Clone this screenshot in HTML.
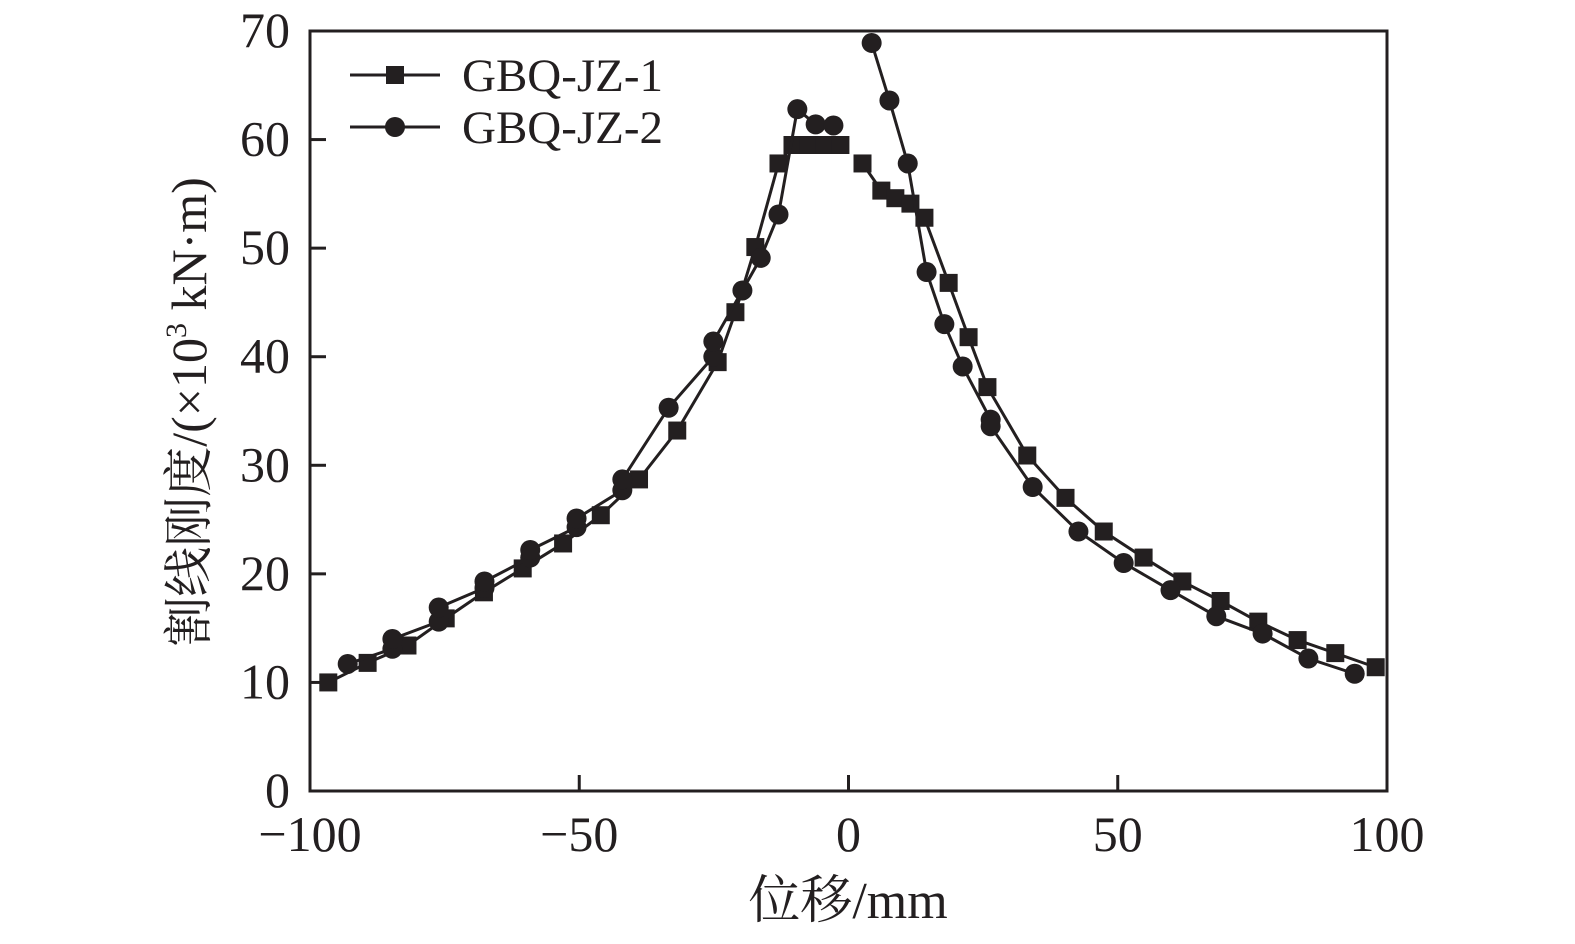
<!DOCTYPE html>
<html><head><meta charset="utf-8"><style>
html,body{margin:0;padding:0;background:#fff;}
svg text{font-family:"Liberation Serif","Noto Serif CJK SC",serif;fill:#231f20;}
</style></head><body>
<svg id="chart" width="1575" height="939" viewBox="0 0 1575 939" xmlns="http://www.w3.org/2000/svg"></svg>
<script>
const xTicks=[-100,-50,0,50,100];
const yTicks=[0,10,20,30,40,50,60,70];
const s1LeftX=[-96.6,-89.3,-81.9,-74.8,-67.7,-60.5,-53.0,-46.0,-38.9,-31.8,-24.3,-21.0,-17.3,-13.0,-10.4,-7.4,-4.5,-1.5];
const s1LeftY=[10.0,11.8,13.4,15.9,18.3,20.5,22.8,25.4,28.7,33.2,39.5,44.1,50.1,57.8,59.5,59.5,59.5,59.5];
const s1RightX=[2.6,6.1,8.7,11.5,14.1,18.6,22.3,25.8,33.2,40.3,47.4,54.8,62.0,69.1,76.1,83.4,90.4,97.9];
const s1RightY=[57.8,55.3,54.6,54.1,52.8,46.8,41.8,37.2,30.9,27.0,23.9,21.5,19.3,17.5,15.6,13.9,12.7,11.4];
const s2LeftX=[-93.0,-84.7,-84.7,-76.1,-76.1,-67.6,-67.6,-59.1,-59.1,-50.5,-50.5,-42.0,-42.0,-33.4,-25.1,-25.1,-19.7,-16.3,-13.0,-9.5,-6.1,-2.8];
const s2LeftY=[11.7,13.1,14.0,15.6,16.9,18.7,19.3,21.5,22.2,24.3,25.1,27.7,28.7,35.3,40.0,41.4,46.1,49.1,53.1,62.8,61.4,61.3];
const s2RightX=[4.3,7.6,11.0,14.5,17.8,21.2,26.4,26.4,34.2,42.7,51.1,59.8,68.3,76.9,85.4,94.0];
const s2RightY=[68.9,63.6,57.8,47.8,43.0,39.1,34.2,33.6,28.0,23.9,21.0,18.5,16.1,14.5,12.2,10.8];

const NS="http://www.w3.org/2000/svg";
const svg=document.getElementById('chart');
const L=310,R=1387,T=31,B=791;
const X=v=>L+(v+100)/200*(R-L);
const Y=v=>B-v/70*(B-T);
const C="#231f20";
function mk(tag,attrs,parent){const e=document.createElementNS(NS,tag);for(const k in attrs)e.setAttribute(k,attrs[k]);(parent||svg).appendChild(e);return e;}

const frame=mk('rect',{x:L,y:T,width:R-L,height:B-T,fill:'none',stroke:C,'stroke-width':3});



xTicks.forEach(t=>{
  const l=mk('line',{x1:X(t),x2:X(t),y1:B,y2:B-16,stroke:C,'stroke-width':3});
  
  
  const tx=mk('text',{x:X(t),y:B+60,'font-size':50,'text-anchor':'middle'});
  
  
  tx.textContent=t<0?'\u2212'+Math.abs(t):String(t);
});
yTicks.forEach(t=>{
  const l=mk('line',{x1:L,x2:L+16,y1:Y(t),y2:Y(t),stroke:C,'stroke-width':3});
  
  
  const tx=mk('text',{x:L-20,y:Y(t)+16,'font-size':50,'text-anchor':'end'});
  
  
  tx.textContent=String(t);
});

const xt=mk('text',{x:848,y:918,'font-size':52,'text-anchor':'middle'});


xt.textContent='位移/mm';
const yt=mk('text',{x:0,y:0,'font-size':50,'text-anchor':'middle',transform:'translate(206,412) rotate(-90)'});


yt.innerHTML='割线刚度/(×10<tspan font-size="30" dy="-20">3</tspan><tspan dy="20"> kN·m)</tspan>';

function series(xs,ys,name,marker){
  const g=mk('g',{});
  
  
  const p=mk('polyline',{points:xs.map((x,i)=>X(x)+','+Y(ys[i])).join(' '),fill:'none',stroke:C,'stroke-width':3},g);
  
  
  xs.forEach((x,i)=>{
    let m;
    if(marker==='square') m=mk('rect',{x:X(x)-9,y:Y(ys[i])-9,width:18,height:18,fill:C},g);
    else m=mk('circle',{cx:X(x),cy:Y(ys[i]),r:10,fill:C},g);
    
    
  });
}
series(s1LeftX,s1LeftY,'gbq-jz-1-negative','square');
series(s1RightX,s1RightY,'gbq-jz-1-positive','square');
series(s2LeftX,s2LeftY,'gbq-jz-2-negative','circle');
series(s2RightX,s2RightY,'gbq-jz-2-positive','circle');

const lg=mk('g',{});


[['GBQ-JZ-1','square',75],['GBQ-JZ-2','circle',127]].forEach(([lab,m,y])=>{
  const e=mk('g',{},lg);
  
  
  mk('line',{x1:350,x2:440,y1:y,y2:y,stroke:C,'stroke-width':3},e);
  if(m==='square') mk('rect',{x:386,y:y-9,width:18,height:18,fill:C},e);
  else mk('circle',{cx:395,cy:y,r:10,fill:C},e);
  const t=mk('text',{x:462,y:y+16,'font-size':47},e);
  t.textContent=lab;
});
</script>
</body></html>
